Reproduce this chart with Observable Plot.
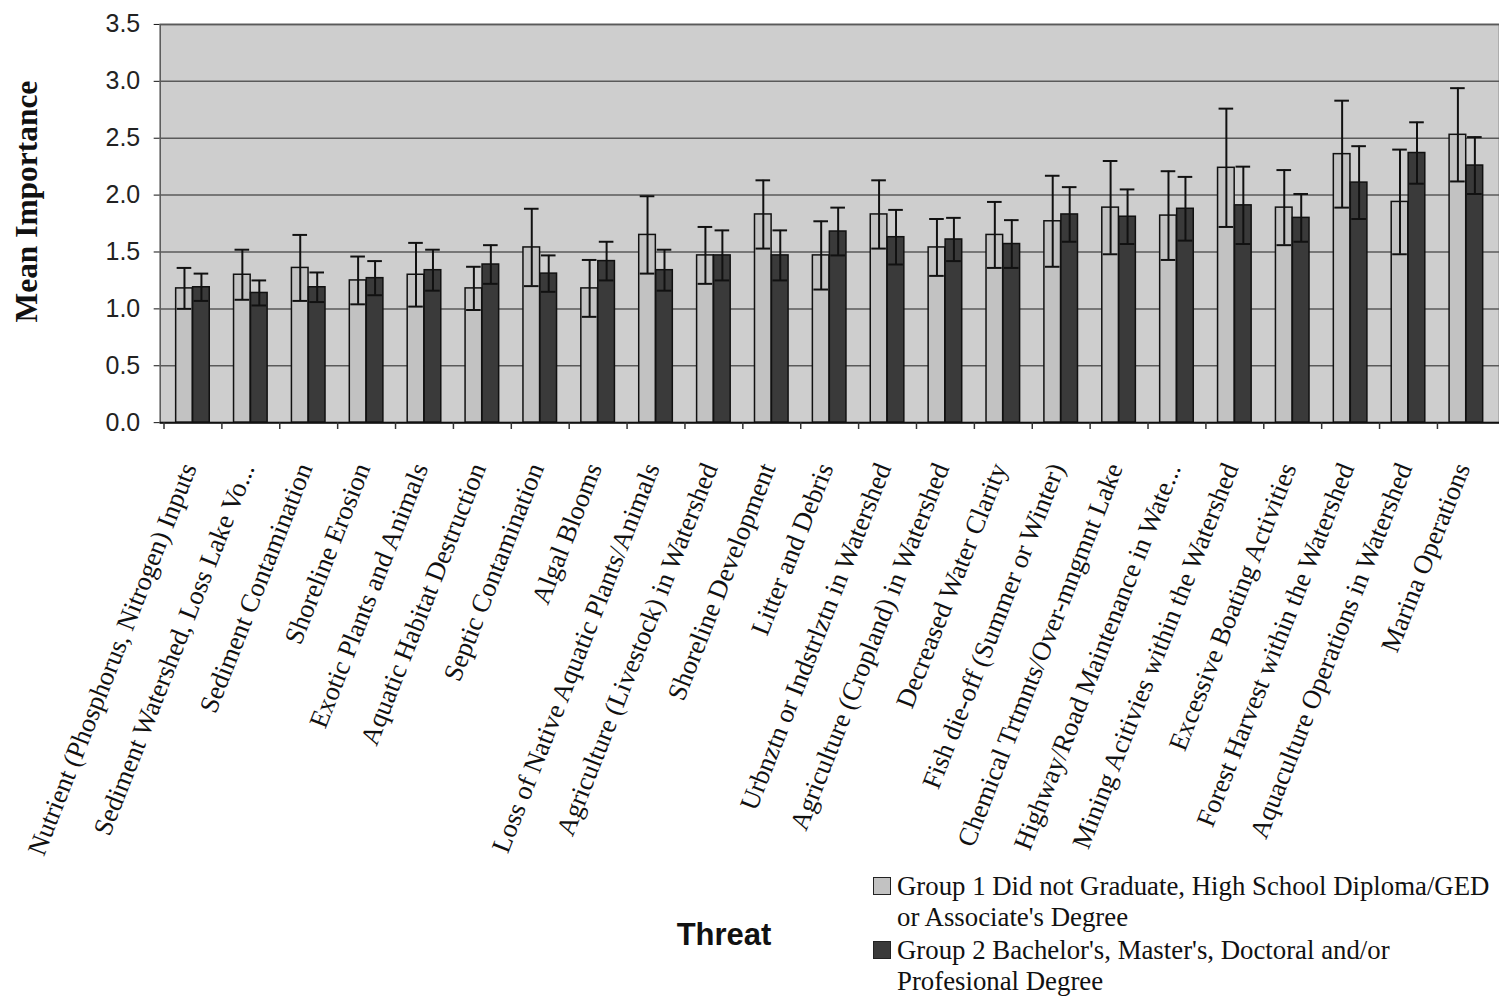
<!DOCTYPE html>
<html>
<head>
<meta charset="utf-8">
<script src="https://cdn.jsdelivr.net/npm/d3@7"></script>
<script src="https://cdn.jsdelivr.net/npm/@observablehq/plot@0.6"></script>
<style>
  body { margin: 0; background: #fff; overflow: hidden; }
  #page { position: relative; width: 1499px; height: 1000px; overflow: hidden; }
  #chart svg { display: block; }
  #chart [aria-label^="y-axis"] text { font-family: "Liberation Sans", Arial, sans-serif; font-size: 25px; fill: #222; }
  #footer { position: relative; height: 130px; width: 1499px; }
  #xtitle { position: absolute; left: 624px; width: 200px; text-align: center; top: 52px;
            font: bold 31px/30px "Liberation Sans", Arial, sans-serif; color: #111; }
  .key { position: absolute; left: 873px; font: 26.8px/31px "Liberation Serif", "Times New Roman", serif; color: #111; white-space: nowrap; }
  .key .sw { position: absolute; left: 0; top: 6px; width: 18px; height: 18px; border: 1.5px solid #222; box-sizing: border-box; }
  .key .tx2 { margin-left: 24px; display: block; }
</style>
</head>
<body>
<div id="page">
  <div id="chart"></div>
  <div id="footer">
    <div id="xtitle">Threat</div>
    <div class="key" id="key1" style="top:3px"></div>
    <div class="key" id="key2" style="top:67px"></div>
  </div>
</div>
<script>
// Threat categories, in chart order
const threats = [
  "Nutrient (Phosphorus, Nitrogen) Inputs",
  "Sediment Watershed, Loss Lake Vo...",
  "Sediment Contamination",
  "Shoreline Erosion",
  "Exotic Plants and Animals",
  "Aquatic Habitat Destruction",
  "Septic Contamination",
  "Algal Blooms",
  "Loss of Native Aquatic Plants/Animals",
  "Agriculture (Livestock) in Watershed",
  "Shoreline Development",
  "Litter and Debris",
  "Urbnztn or Indstrlztn in Watershed",
  "Agriculture (Cropland) in Watershed",
  "Decreased Water Clarity",
  "Fish die-off (Summer or Winter)",
  "Chemical Trtmnts/Over-mngmnt Lake",
  "Highway/Road Maintenance in Wate...",
  "Mining Acitivies within the Watershed",
  "Excessive Boating Activities",
  "Forest Harvest within the Watershed",
  "Aquaculture Operations in Watershed",
  "Marina Operations"
];

// Group 1: mean importance and error
const group1Mean = [1.18, 1.30, 1.36, 1.25, 1.30, 1.18, 1.54, 1.18, 1.65, 1.47, 1.83, 1.47,
                    1.83, 1.54, 1.65, 1.77, 1.89, 1.82, 2.24, 1.89, 2.36, 1.94, 2.53];
const group1Err  = [0.18, 0.22, 0.29, 0.21, 0.28, 0.19, 0.34, 0.25, 0.34, 0.25, 0.30, 0.30,
                    0.30, 0.25, 0.29, 0.40, 0.41, 0.39, 0.52, 0.33, 0.47, 0.46, 0.41];

// Group 2: mean importance and error
const group2Mean = [1.19, 1.14, 1.19, 1.27, 1.34, 1.39, 1.31, 1.42, 1.34, 1.47, 1.47, 1.68,
                    1.63, 1.61, 1.57, 1.83, 1.81, 1.88, 1.91, 1.80, 2.11, 2.37, 2.26];
const group2Err  = [0.12, 0.11, 0.13, 0.15, 0.18, 0.17, 0.16, 0.17, 0.18, 0.22, 0.22, 0.21,
                    0.24, 0.19, 0.21, 0.24, 0.24, 0.28, 0.34, 0.21, 0.32, 0.27, 0.25];

const groupLabels = [
  ["Group 1 Did not Graduate, High School Diploma/GED", "or Associate's Degree"],
  ["Group 2 Bachelor's, Master's, Doctoral and/or", "Profesional Degree"]
];
const groupColors = ["#c2c2c2", "#3a3a3a"];
const yTicks = [0, 0.5, 1.0, 1.5, 2.0, 2.5, 3.0, 3.5];

const g1 = threats.map((t, i) => ({threat: t, mean: group1Mean[i], err: group1Err[i]}));
const g2 = threats.map((t, i) => ({threat: t, mean: group2Mean[i], err: group2Err[i]}));

// Layout of the two bars inside each category band (pixels)
const W = 1502, ML = 160, MR = 0;
const bw = (W - ML - MR) / threats.length;
const bar1 = {left: 12, right: 29};   // light bar span within the band
const bar2 = {left: 29, right: 46};   // dark bar span within the band
const capHalf = 7.5;
const c1 = (bar1.left + bar1.right) / 2, c2 = (bar2.left + bar2.right) / 2;

const ink = "#111";

function errorMarks(rows, c) {
  return [
    Plot.ruleX(rows, {x: "threat", y1: d => d.mean - d.err, y2: d => d.mean + d.err,
                      dx: c - bw / 2, stroke: ink, strokeWidth: 2}),
    Plot.tickY(rows, {x: "threat", y: d => d.mean + d.err,
                      insetLeft: c - capHalf, insetRight: bw - c - capHalf, stroke: ink, strokeWidth: 2}),
    Plot.tickY(rows, {x: "threat", y: d => d.mean - d.err,
                      insetLeft: c - capHalf, insetRight: bw - c - capHalf, stroke: ink, strokeWidth: 2})
  ];
}

const chart = Plot.plot({
  width: W,
  height: 870,
  marginLeft: ML,
  marginRight: MR,
  marginTop: 24,
  marginBottom: 447,
  style: {background: "transparent", fontFamily: "Liberation Serif, serif", fontSize: "26.7px", color: "#111"},
  x: {domain: threats, padding: 0, axis: null},
  y: {domain: [0, 3.5], ticks: yTicks, tickFormat: d3.format(".1f"), tickSize: 6, tickPadding: 14, label: null},
  marks: [
    Plot.frame({fill: "#cecece", stroke: "#555", strokeWidth: 1.5}),
    Plot.ruleY(yTicks.filter(v => v > 0), {stroke: "#5a5a5a", strokeWidth: 1.5}),
    Plot.barY(g1, {x: "threat", y: "mean", fill: groupColors[0], stroke: ink, strokeWidth: 1.5,
                   insetLeft: bar1.left, insetRight: bw - bar1.right}),
    Plot.barY(g2, {x: "threat", y: "mean", fill: groupColors[1], stroke: ink, strokeWidth: 1.5,
                   insetLeft: bar2.left, insetRight: bw - bar2.right}),
    ...errorMarks(g1, c1),
    ...errorMarks(g2, c2),
    Plot.ruleY([0], {stroke: ink, strokeWidth: 2}),
    // category boundary ticks below the axis
    Plot.ruleX(threats, {x: d => d, dx: -bw / 2, y1: 0, y2: -0.06, stroke: "#333", strokeWidth: 1.5}),
    // rotated category labels
    Plot.text(threats, {x: d => d, y: 0, dx: -4, dy: 42, rotate: -68.5, textAnchor: "end",
                        lineAnchor: "middle", fontSize: 26.7, fill: "#111"}),
    // y-axis title
    Plot.text(["Mean Importance"], {frameAnchor: "left", dx: -134, dy: -22, rotate: -90,
                                     textAnchor: "middle", fontSize: 31.5, fontWeight: "bold", fill: "#111"})
  ]
});
document.getElementById("chart").appendChild(chart);

// Legend
[["key1", 0], ["key2", 1]].forEach(([id, i]) => {
  const el = document.getElementById(id);
  const sw = document.createElement("div");
  sw.className = "sw";
  sw.style.background = groupColors[i];
  el.appendChild(sw);
  groupLabels[i].forEach(line => {
    const s = document.createElement("span");
    s.className = "tx2";
    s.textContent = line;
    el.appendChild(s);
  });
});
</script>
</body>
</html>
